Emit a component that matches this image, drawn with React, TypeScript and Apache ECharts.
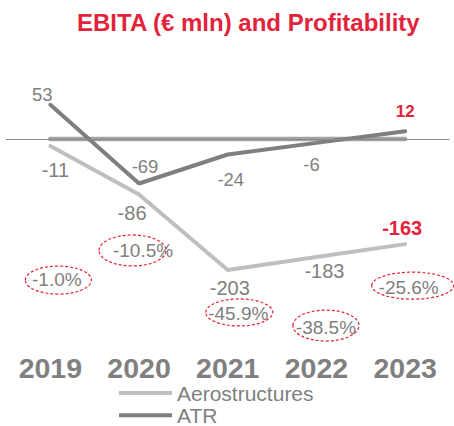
import React, { useEffect, useRef } from "react";
import * as echarts from "echarts";

// ---- data ----
const years = ["2019", "2020", "2021", "2022", "2023"];
const aerostructures = [-11, -86, -203, -183, -163];
const atr = [53, -69, -24, -6, 12];
const zeroRef = [0, 0, 0, 0, 0];
const aeroMargins = [-1.0, -10.5, -45.9, -38.5, -25.6];

// ---- layout / style ----
const RED = "#e2233a";
const TXT = "#808080";
const FONT = '"Liberation Sans", Arial, sans-serif';

const aeroLabelOffsets = [[5, 24], [-7, 19], [2, 18], [8, 14], [-3, -16]];
const atrLabelOffsets = [[-8, -10], [6, -17], [3, 25], [-5, 22], [0, -20]];
// badge (ellipse) offsets relative to the Aerostructures point: [ex, ey, rx, ry, tx, ty]
const badgeLayout = [
  [8, 134, 33, 14, 6.5, 133],
  [-6.5, 56, 33.5, 15.5, 4, 56.5],
  [11.5, 42.5, 33.5, 13.5, 10.5, 44],
  [9.5, 68.5, 33, 15.5, 9.5, 70],
  [7.5, 41.5, 41, 13.5, 3.5, 43],
];

export default function App() {
  const ref = useRef<HTMLDivElement>(null);
  useEffect(() => {
    if (!ref.current) return;
    const chart = echarts.init(ref.current, null, { renderer: "svg" });
    const last = years.length - 1;
    const labelBase = {
      show: true,
      position: "inside",
      color: TXT,
      fontFamily: FONT,
      align: "center",
      verticalAlign: "middle",
    };
    const option: any = {
      animation: false,
      title: {
        text: "EBITA (€ mln) and Profitability",
        left: 72,
        top: 5,
        textStyle: { color: RED, fontSize: 24, fontWeight: "bold", fontFamily: FONT },
      },
      legend: {
        orient: "vertical",
        left: 119,
        top: 382.5,
        padding: 0,
        itemGap: 1.3,
        itemWidth: 53,
        itemHeight: 4,
        icon: "rect",
        data: ["Aerostructures", "ATR"],
        textStyle: { color: TXT, fontSize: 21, fontFamily: FONT },
      },
      grid: { left: 6, right: 4.5, top: 74.5, bottom: 93.5, containLabel: false },
      xAxis: {
        type: "category",
        data: years,
        boundaryGap: true,
        axisLine: { show: false },
        axisTick: { show: false },
        axisLabel: {
          color: TXT,
          fontSize: 28.5,
          fontWeight: "bold",
          fontFamily: FONT,
          margin: 21,
        },
      },
      yAxis: {
        type: "value",
        min: -300,
        max: 100,
        interval: 100,
        show: false,
        splitLine: { show: false },
      },
      series: [
        {
          name: "ref",
          type: "line",
          data: zeroRef,
          symbol: "none",
          lineStyle: { color: "#a3a3a3", width: 4.5, cap: "round" },
          itemStyle: { color: "#a3a3a3" },
          z: 1,
          markLine: {
            silent: true,
            symbol: "none",
            label: { show: false },
            lineStyle: { color: "#8a8a8a", width: 1, type: "solid" },
            data: [{ yAxis: 0 }],
          },
        },
        {
          name: "Aerostructures",
          type: "line",
          symbol: "circle",
          symbolSize: 2,
          lineStyle: { color: "#bfbfbf", width: 4, cap: "round" },
          itemStyle: { color: "#bfbfbf" },
          z: 2,
          data: aerostructures.map((v, i) => ({
            value: v,
            label: {
              ...labelBase,
              offset: aeroLabelOffsets[i],
              fontSize: 20,
              ...(i === last ? { color: RED, fontWeight: "bold" } : {}),
            },
          })),
        },
        {
          name: "ATR",
          type: "line",
          symbol: "circle",
          symbolSize: 2,
          lineStyle: { color: "#7f7f7f", width: 4, cap: "round" },
          itemStyle: { color: "#7f7f7f" },
          z: 3,
          data: atr.map((v, i) => ({
            value: v,
            label: {
              ...labelBase,
              offset: atrLabelOffsets[i],
              fontSize: 18.5,
              ...(i === last ? { color: RED, fontWeight: "bold", fontSize: 17 } : {}),
            },
          })),
        },
        {
          name: "margins",
          type: "custom",
          clip: false,
          z: 4,
          data: aeroMargins.map((m, i) => [i, aerostructures[i], m]),
          encode: { x: 0, y: 1 },
          renderItem: (params: any, api: any) => {
            const i = params.dataIndex;
            const pt = api.coord([api.value(0), api.value(1)]);
            const [ex, ey, rx, ry, tx, ty] = badgeLayout[i];
            const m = api.value(2) as number;
            return {
              type: "group",
              children: [
                {
                  type: "ellipse",
                  shape: { cx: pt[0] + ex, cy: pt[1] + ey, rx, ry },
                  style: { fill: "none", stroke: RED, lineWidth: 1.2, lineDash: [3, 2] },
                },
                {
                  type: "text",
                  x: pt[0] + tx,
                  y: pt[1] + ty,
                  style: {
                    text: m.toFixed(1) + "%",
                    fill: TXT,
                    fontSize: 19,
                    fontFamily: FONT,
                    align: "center",
                    verticalAlign: "middle",
                  },
                },
              ],
            };
          },
        },
      ],
    };
    chart.setOption(option);
    return () => chart.dispose();
  }, []);
  return (
    <div
      ref={ref}
      style={{ position: "absolute", left: 0, top: 0, width: 454, height: 426, background: "#fff" }}
    />
  );
}
